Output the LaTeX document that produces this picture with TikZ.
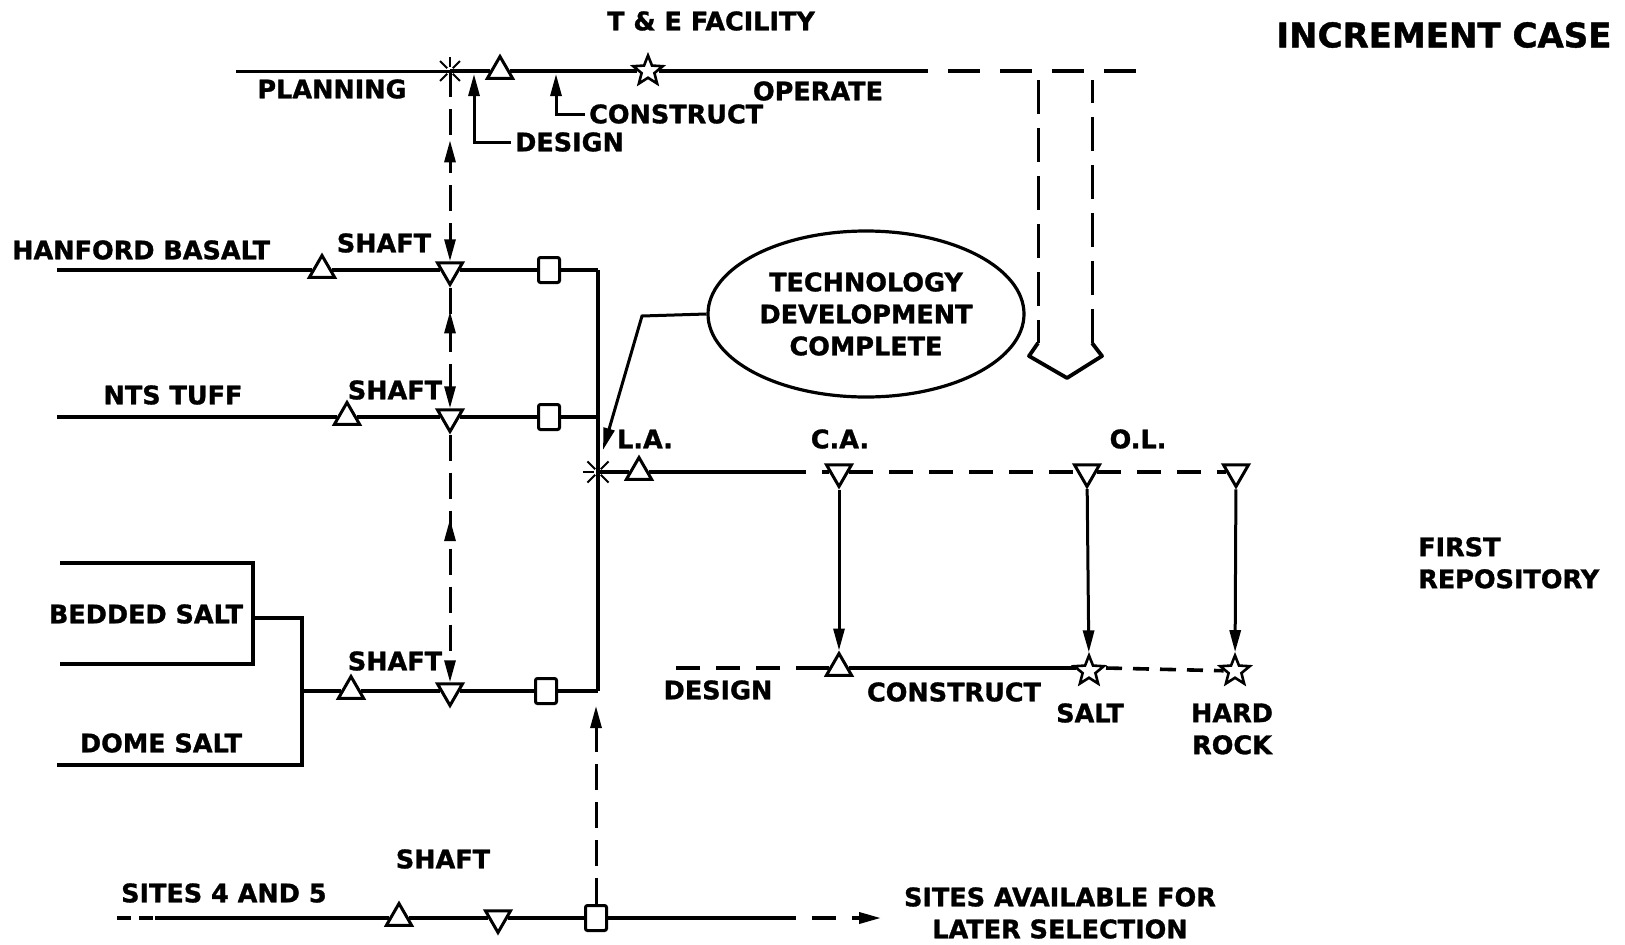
\documentclass[tikz,border=0pt]{standalone}
\usepackage{fontspec}
\setmainfont{DejaVu Sans}[BoldFeatures={FakeBold=1.2}]
\usetikzlibrary{shapes.geometric,arrows.meta,decorations.markings}
\begin{document}
\begin{tikzpicture}[x=1pt,y=-1pt,
  every node/.style={font=\bfseries\fontsize{25.5}{32}\selectfont, inner sep=0pt},
  mainln/.style={line width=3.8pt},
  thinln/.style={line width=3pt},
  vdash/.style={line width=3pt, dash pattern=on 26pt off 12pt},
  hdash/.style={line width=3.6pt, dash pattern=on 32pt off 20pt},
  hdashb/.style={line width=3.6pt, dash pattern=on 24pt off 16pt},
  hdashc/.style={line width=3.6pt, dash pattern=on 16pt off 11pt},
  arr/.style={-{Triangle[length=22pt,width=11pt]}},
  trup/.style={draw, regular polygon, regular polygon sides=3, minimum size=29pt, line width=3pt, inner sep=0pt, fill=white},
  trdn/.style={trup, shape border rotate=180},
  stp/.style={draw, star, star points=5, star point ratio=2.3, minimum size=31pt, line width=2.6pt, inner sep=0pt, fill=white},
  sqr/.style={draw, rectangle, minimum width=21pt, minimum height=25pt, rounded corners=2pt, line width=3pt, inner sep=0pt, fill=white},
  midup/.style={postaction={decorate}, decoration={markings, mark=at position #1 with {\arrow{Triangle[length=22pt,width=11pt,reversed]}}}}
]
\useasboundingbox (0,0) rectangle (1625,945);
\fill[white] (0,0) rectangle (1625,945);

% titles
\node (title) at (711,21) {T \& E FACILITY};
\node[font=\bfseries\fontsize{34}{40}\selectfont] (inc) at (1444,35) {INCREMENT CASE};

% T & E facility line
\coordinate (t0) at (236,71);
\coordinate (tb) at (450,71);
\node[trup] (tt) at (500,71) {};
\node[stp] (ts) at (648,71) {};
\coordinate (tsol) at (896,71);
\coordinate (tend) at (1148,71);
\draw[thinln] (t0) -- (tb);
\draw[mainln] (tb) -- (tt) -- (ts) -- (tsol);
\draw[hdash] (tsol) -- (tend);
\foreach \a in {0,45,...,315} \draw[line width=2pt] (tb) ++(\a:4pt) -- ++(\a:10pt);

\node (plan) at (332,89) {PLANNING};
\node (oper) at (818,91) {OPERATE};
\node[anchor=west] (cons) at (589,114) {CONSTRUCT};
\node[anchor=west] (des) at (515,142) {DESIGN};
\coordinate (dA) at (474,142);
\coordinate (dT) at (474,74);
\coordinate (cA) at (556,114);
\coordinate (cT) at (556,74);
\draw[thinln,arr,shorten <=4pt] (des.west) -- (dA) -- (dT);
\draw[thinln,arr,shorten <=4pt] (cons.west) -- (cA) -- (cT);

% Hanford basalt
\node[anchor=west] (hb) at (12,250) {HANFORD BASALT};
\node (sh1) at (384,243) {SHAFT};
\coordinate (h0) at (57,270);
\node[trup] (h1) at (322,270) {};
\node[trdn] (h2) at (450,270) {};
\node[sqr] (h3) at (549,270) {};
\coordinate (hR) at (598,270);
\draw[mainln] (h0) -- (h1) -- (h2) -- (h3) -- (hR);

% NTS tuff
\node (nts) at (173,395) {NTS TUFF};
\node (sh2) at (395,390) {SHAFT};
\coordinate (n0) at (57,417);
\node[trup] (n1) at (347,417) {};
\node[trdn] (n2) at (450,417) {};
\node[sqr] (n3) at (549,417) {};
\coordinate (nR) at (598,417);
\draw[mainln] (n0) -- (n1) -- (n2) -- (n3) -- (nR);

% Salt
\node (bs) at (146,614) {BEDDED SALT};
\node (ds) at (161,743) {DOME SALT};
\node (sh3) at (395,661) {SHAFT};
\coordinate (bx0) at (60,563);
\coordinate (bx1) at (253,563);
\coordinate (bx2) at (253,664);
\coordinate (bx3) at (60,664);
\draw[mainln] (bx0) -- (bx1) -- (bx2) -- (bx3);
\coordinate (bm) at (253,618);
\coordinate (bk1) at (302,618);
\coordinate (bk2) at (302,765);
\coordinate (d0) at (57,765);
\draw[mainln] (bm) -- (bk1) -- (bk2) -- (d0);
\coordinate (bj) at (302,691);
\node[trup] (b1) at (351,691) {};
\node[trdn] (b2) at (450,691) {};
\node[sqr] (b3) at (546,691) {};
\coordinate (bR) at (598,691);
\draw[mainln] (bj) -- (b1) -- (b2) -- (b3) -- (bR);
\draw[mainln] (hR) -- (bR);

% shaft links
\draw[vdash, arr, midup=0.48] (tb) -- (h2);
\draw[vdash, arr, midup=0.38] (h2) -- (n2);
\draw[vdash, arr, midup=0.43] (n2) -- (b2);

% L.A. line
\coordinate (la) at (598,472);
\foreach \a in {0,45,...,315} \draw[line width=2pt] (la) ++(\a:4pt) -- ++(\a:11pt);
\node[trup] (la1) at (639,472) {};
\coordinate (las) at (782,472);
\node[trdn] (ca) at (839,472) {};
\node[trdn] (ol) at (1087,472) {};
\node[trdn] (ol2) at (1236,472) {};
\draw[mainln] (la) -- (la1) -- (las);
\draw[hdashb] (las) -- (ca) -- (ol) -- (ol2);
\node (lat) at (645,439) {L.A.};
\node (cat) at (840,439) {C.A.};
\node (olt) at (1138,439) {O.L.};

% technology development
\node[draw, ellipse, line width=3.2pt, minimum width=316pt, minimum height=166pt, align=center] (tdc) at (866,314) {TECHNOLOGY\\DEVELOPMENT\\COMPLETE};
\coordinate (tdb) at (642,316);
\coordinate (latip) at (603,450);
\draw[thinln, arr] (tdc.west) -- (tdb) -- (latip);

% hollow arrow
\coordinate (ha1) at (1038,80);
\coordinate (ha2) at (1038,343);
\coordinate (ha3) at (1029,356);
\coordinate (ha4) at (1067,378);
\coordinate (ha5) at (1102,356);
\coordinate (ha6) at (1092,343);
\coordinate (ha7) at (1092,80);
\draw[vdash, dash pattern=on 34pt off 14pt] (ha1) -- (ha2);
\draw[mainln, line join=round] (ha2) -- (ha3) -- (ha4) -- (ha5) -- (ha6);
\draw[vdash, dash pattern=on 34pt off 14pt] (ha6) -- (ha7);

% repository line
\coordinate (r0) at (676,668);
\coordinate (rs) at (800,668);
\node[trup] (r1) at (839,668) {};
\node[stp] (r2) at (1089,671) {};
\node[stp] (r3) at (1235,671) {};
\coordinate (r2w) at (1076,668);
\coordinate (r2e) at (1106,668);
\draw[hdashb] (r0) -- (rs);
\draw[mainln] (rs) -- (r1) -- (r2w);
\draw[hdashc] (r2e) -- (r3);
\draw[thinln, arr] (ca) -- (r1);
\draw[thinln, arr] (ol) -- (r2);
\draw[thinln, arr] (ol2) -- (r3);
\node (rdes) at (718,690) {DESIGN};
\node (rcon) at (954,692) {CONSTRUCT};
\node (salt) at (1090,713) {SALT};
\node[align=center] (hrk) at (1232,729) {HARD\\ROCK};
\node[align=left, anchor=north west] (frep) at (1418,537) {FIRST\\REPOSITORY};

% sites 4 and 5
\node[anchor=west] (s45) at (121,893) {SITES 4 AND 5};
\node (sh4) at (443,859) {SHAFT};
\coordinate (s0) at (117,918);
\coordinate (s1a) at (155,918);
\node[trup] (s1) at (399,918) {};
\node[trdn] (s2) at (498,918) {};
\node[sqr] (s3) at (596,918) {};
\coordinate (ssol) at (772,918);
\coordinate (send) at (881,918);
\draw[mainln, dash pattern=on 14pt off 8pt] (s0) -- (s1a);
\draw[mainln] (s1a) -- (s1) -- (s2) -- (s3) -- (ssol);
\draw[hdashb, arr] (ssol) -- (send);
\coordinate (bup) at (596,706);
\draw[vdash, arr] (s3) -- (bup);
\node[align=center] (sav) at (1060,913) {SITES AVAILABLE FOR\\LATER SELECTION};
\end{tikzpicture}
\end{document}
